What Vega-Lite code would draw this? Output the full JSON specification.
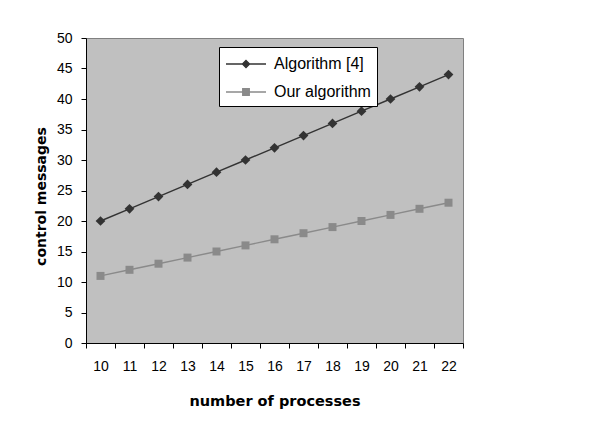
{
  "$schema": "https://vega.github.io/schema/vega-lite/v6.json",
  "width": 377,
  "height": 305,
  "autosize": {"type": "none"},
  "padding": {"left": 86, "top": 38, "right": 135, "bottom": 94},
  "background": "white",
  "config": {
    "view": {"fill": "#c0c0c0", "stroke": "#808080", "strokeWidth": 1},
    "font": "Liberation Sans"
  },
  "data": {
    "values": [
      {"processes": 10, "series": "Algorithm [4]", "messages": 20},
      {"processes": 11, "series": "Algorithm [4]", "messages": 22},
      {"processes": 12, "series": "Algorithm [4]", "messages": 24},
      {"processes": 13, "series": "Algorithm [4]", "messages": 26},
      {"processes": 14, "series": "Algorithm [4]", "messages": 28},
      {"processes": 15, "series": "Algorithm [4]", "messages": 30},
      {"processes": 16, "series": "Algorithm [4]", "messages": 32},
      {"processes": 17, "series": "Algorithm [4]", "messages": 34},
      {"processes": 18, "series": "Algorithm [4]", "messages": 36},
      {"processes": 19, "series": "Algorithm [4]", "messages": 38},
      {"processes": 20, "series": "Algorithm [4]", "messages": 40},
      {"processes": 21, "series": "Algorithm [4]", "messages": 42},
      {"processes": 22, "series": "Algorithm [4]", "messages": 44},
      {"processes": 10, "series": "Our algorithm", "messages": 11},
      {"processes": 11, "series": "Our algorithm", "messages": 12},
      {"processes": 12, "series": "Our algorithm", "messages": 13},
      {"processes": 13, "series": "Our algorithm", "messages": 14},
      {"processes": 14, "series": "Our algorithm", "messages": 15},
      {"processes": 15, "series": "Our algorithm", "messages": 16},
      {"processes": 16, "series": "Our algorithm", "messages": 17},
      {"processes": 17, "series": "Our algorithm", "messages": 18},
      {"processes": 18, "series": "Our algorithm", "messages": 19},
      {"processes": 19, "series": "Our algorithm", "messages": 20},
      {"processes": 20, "series": "Our algorithm", "messages": 21},
      {"processes": 21, "series": "Our algorithm", "messages": 22},
      {"processes": 22, "series": "Our algorithm", "messages": 23}
    ]
  },
  "encoding": {
    "x": {
      "field": "processes",
      "type": "ordinal",
      "scale": {"type": "band", "paddingInner": 0, "paddingOuter": 0},
      "axis": {
        "title": "number of processes",
        "titleFont": "DejaVu Sans",
        "titleFontSize": 14.5,
        "titleFontWeight": "bold",
        "titleColor": "black",
        "labelAngle": 0,
        "labelFontSize": 14,
        "labelColor": "black",
        "tickBand": "extent",
        "tickSize": 5,
        "tickColor": "black",
        "domainColor": "black",
        "labelPadding": 11,
        "titlePadding": 21,
        "grid": false
      }
    },
    "y": {
      "field": "messages",
      "type": "quantitative",
      "scale": {"domain": [0, 50], "nice": false},
      "axis": {
        "values": [0, 5, 10, 15, 20, 25, 30, 35, 40, 45, 50],
        "title": "control messages",
        "titleFont": "DejaVu Sans",
        "titleFontSize": 14,
        "titleFontWeight": "bold",
        "titleColor": "black",
        "titleY": 158,
        "labelFontSize": 14,
        "labelColor": "black",
        "tickSize": 5,
        "tickColor": "black",
        "domainColor": "black",
        "labelPadding": 9,
        "titlePadding": 8,
        "grid": false
      }
    },
    "color": {
      "field": "series",
      "type": "nominal",
      "scale": {"domain": ["Algorithm [4]", "Our algorithm"], "range": ["#333333", "#8a8a8a"]},
      "legend": {
        "orient": "none",
        "legendX": 133,
        "legendY": 9,
        "title": null,
        "fillColor": "white",
        "strokeColor": "black",
        "padding": 6,
        "labelFontSize": 16,
        "labelColor": "black",
        "labelFont": "Liberation Sans",
        "symbolSize": 400,
        "symbolStrokeWidth": 1.3,
        "labelOffset": 27,
        "rowPadding": 9,
        "encode": {
          "symbols": {
            "update": {
              "shape": {"signal": "datum.value === 'Algorithm [4]' ? 'M-1,0L3,0M1,-0.36L1.36,0L1,0.36L0.64,0Z' : 'M-1,0L3,0M0.67,-0.33L1.33,-0.33L1.33,0.33L0.67,0.33Z'"},
              "fill": {"signal": "datum.value === 'Algorithm [4]' ? '#333333' : '#8a8a8a'"},
              "stroke": {"signal": "datum.value === 'Algorithm [4]' ? '#333333' : '#9a9a9a'"},
              "opacity": {"value": 1}
            }
          }
        }
      }
    }
  },
  "layer": [
    {"mark": {"type": "line", "strokeWidth": 1.4}},
    {
      "transform": [{"filter": "datum.series === 'Algorithm [4]'"}],
      "mark": {"type": "point", "filled": true, "opacity": 1, "size": 95, "shape": "diamond"}
    },
    {
      "transform": [{"filter": "datum.series === 'Our algorithm'"}],
      "mark": {"type": "point", "filled": true, "opacity": 1, "size": 64, "shape": "square"}
    }
  ]
}
